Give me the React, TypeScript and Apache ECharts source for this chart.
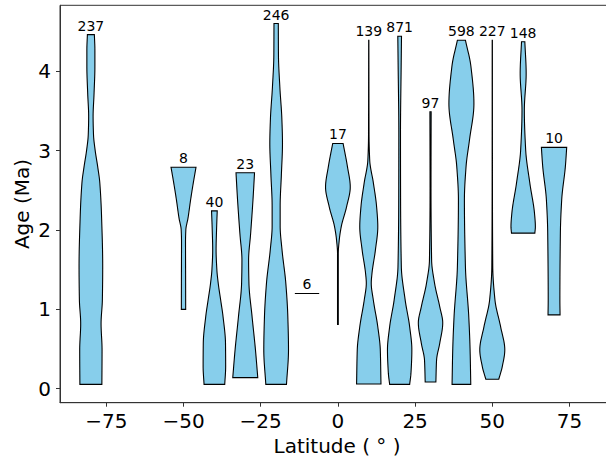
import React, { useEffect, useRef } from "react";
import * as echarts from "echarts";

// Violin positions (latitude, degrees) and sample counts shown above each violin
const latitudes = [-80, -50, -40, -30, -20, -10, 0, 10, 20, 30, 40, 50, 60, 70];
const counts = [237, 8, 40, 23, 246, 6, 17, 139, 871, 97, 598, 227, 148, 10];

// Outline of each violin: ages (Ma, top to bottom) and half-widths (degrees)
const profileAges: number[][] = [
  [4.46, 4.27, 4.06, 3.72, 3.43, 3.2, 3.0, 2.8, 2.59, 2.17, 1.54, 1.12, 0.82, 0.49, 0.055],
  [2.79, 2.6, 2.38, 2.15, 2.0, 1.85, 1.4, 1.0],
  [2.24, 2.0, 1.75, 1.5, 1.33, 1.1, 0.91, 0.57, 0.28, 0.055],
  [2.72, 2.38, 1.95, 1.62, 1.33, 0.91, 0.49, 0.14],
  [4.6, 4.2, 3.8, 3.4, 3.09, 2.7, 2.3, 2.05, 1.75, 1.33, 0.91, 0.49, 0.055],
  [1.2, 1.2],
  [3.09, 2.8, 2.54, 2.29, 2.04, 1.87, 1.7, 0.81],
  [4.39, 3.2, 2.88, 2.59, 2.29, 2.04, 1.75, 1.45, 1.33, 1.12, 0.78, 0.49, 0.06],
  [4.44, 4.06, 3.22, 2.38, 1.54, 1.12, 0.78, 0.49, 0.2, 0.055],
  [3.49, 2.5, 1.62, 1.33, 1.03, 0.83, 0.57, 0.36, 0.085],
  [4.39, 4.06, 3.59, 3.13, 2.8, 2.38, 1.54, 0.91, 0.49, 0.055],
  [4.39, 2.5, 1.54, 1.12, 0.78, 0.49, 0.28, 0.12],
  [4.37, 3.97, 3.51, 3.01, 2.59, 2.21, 2.04, 1.96],
  [3.04, 2.8, 2.38, 1.96, 1.12, 0.93],
];
const profileHalfWidths: number[][] = [
  [1.13, 1.3, 1.3, 1.03, 0.72, 0.85, 1.4, 2.2, 2.9, 3.46, 3.83, 3.72, 3.3, 3.62, 3.56],
  [4.05, 3.2, 2.3, 1.46, 0.75, 0.65, 0.68, 0.7],
  [0.92, 0.7, 0.55, 0.8, 1.24, 2.1, 2.8, 3.6, 3.65, 3.35],
  [3.0, 2.5, 1.73, 1.08, 1.19, 2.2, 3.3, 4.05],
  [0.7, 0.75, 1.2, 1.85, 2.05, 1.7, 1.3, 1.3, 1.9, 3.13, 3.78, 4.0, 3.35],
  [3.94, 3.94],
  [1.68, 3.08, 4.0, 2.8, 1.08, 0.43, 0.12, 0.12],
  [0.03, 0.08, 0.3, 1.5, 2.54, 2.92, 2.16, 1.03, 0.8, 1.46, 2.92, 3.73, 3.95],
  [0.6, 0.49, 0.27, 0.3, 0.54, 1.78, 3.24, 3.95, 3.67, 3.24],
  [0.2, 0.15, 0.35, 1.3, 3.0, 3.95, 2.97, 1.95, 1.73],
  [1.3, 3.08, 4.05, 2.6, 1.51, 0.97, 1.3, 2.38, 2.81, 3.03],
  [0.03, 0.05, 0.15, 0.86, 2.7, 4.05, 3.24, 2.1],
  [0.54, 0.97, 0.38, 0.81, 2.16, 3.67, 3.95, 3.78],
  [4.1, 3.67, 2.48, 2.05, 1.89, 1.95],
];

const xTicks = [-75, -50, -25, 0, 25, 50, 75];
const yTicks = [0, 1, 2, 3, 4];

const FONT = "DejaVu Sans";

// monotone cubic Hermite interpolation of half-width as a function of age (for a smooth outline)
function makeInterp(agesDesc: number[], hwDesc: number[]) {
  const xs = agesDesc.slice().reverse();
  const ys = hwDesc.slice().reverse();
  const n = xs.length;
  const d: number[] = [];
  for (let k = 0; k < n - 1; k++) d.push((ys[k + 1] - ys[k]) / (xs[k + 1] - xs[k]));
  const m: number[] = [];
  for (let k = 0; k < n; k++) {
    if (k === 0) m.push(d[0]);
    else if (k === n - 1) m.push(d[n - 2]);
    else if (d[k - 1] * d[k] <= 0) m.push(0);
    else m.push(2 / (1 / d[k - 1] + 1 / d[k]));
  }
  return (x: number) => {
    let k = 0;
    while (k < n - 2 && x > xs[k + 1]) k++;
    const h = xs[k + 1] - xs[k];
    const t = Math.min(1, Math.max(0, (x - xs[k]) / h));
    const t2 = t * t, t3 = t2 * t;
    const v =
      (2 * t3 - 3 * t2 + 1) * ys[k] +
      (t3 - 2 * t2 + t) * h * m[k] +
      (-2 * t3 + 3 * t2) * ys[k + 1] +
      (t3 - t2) * h * m[k + 1];
    return Math.max(0, v);
  };
}

export default function App() {
  const ref = useRef<HTMLDivElement>(null);
  useEffect(() => {
    if (!ref.current) return;
    const chart = echarts.init(ref.current, undefined, { renderer: "svg" });

    const data = latitudes.map((lat, i) => [lat, profileAges[i][0], i]);

    const renderItem = (params: any, api: any) => {
      const i = api.value(2) as number;
      const lat = latitudes[i];
      const ages = profileAges[i];
      const hws = profileHalfWidths[i];
      const top = ages[0];
      const bottom = ages[ages.length - 1];
      const right: number[][] = [];
      const left: number[][] = [];
      if (top - bottom < 1e-6) {
        right.push(api.coord([lat + hws[0], top]));
        left.push(api.coord([lat - hws[0], top]));
      } else {
        const f = makeInterp(ages, hws);
        const steps = 200;
        for (let s = 0; s <= steps; s++) {
          const a = top - ((top - bottom) * s) / steps;
          const w = f(a);
          right.push(api.coord([lat + w, a]));
          left.push(api.coord([lat - w, a]));
        }
      }
      const points = right.concat(left.reverse());
      const tp = api.coord([lat, top]);
      return {
        type: "group",
        children: [
          {
            type: "polygon",
            shape: { points },
            style: { fill: "#87CEEB", stroke: "#000", lineWidth: 1.1 },
          },
          {
            type: "text",
            style: {
              text: String(counts[i]),
              x: tp[0],
              y: tp[1] - 9,
              align: "center",
              verticalAlign: "middle",
              fontSize: 14,
              fontFamily: FONT,
              fill: "#000",
            },
          },
        ],
      };
    };

    const option: any = {
      animation: false,
      backgroundColor: "#fff",
      grid: {
        left: 60,
        top: 5.3,
        width: 555.8,
        height: 397.4,
        show: true,
        borderColor: "#333",
        borderWidth: 1,
        containLabel: false,
      },
      xAxis: {
        type: "value",
        min: -90,
        max: 90,
        axisLine: { show: true, onZero: false, lineStyle: { color: "#333", width: 1 } },
        axisTick: { show: true, customValues: xTicks, length: 4, lineStyle: { color: "#333" } },
        axisLabel: {
          customValues: xTicks,
          formatter: (v: number) => (v < 0 ? "\u2212" + Math.abs(v) : String(v)),
          fontSize: 20,
          fontFamily: FONT,
          color: "#000",
          margin: 8,
        },
        splitLine: { show: false },
      },
      yAxis: {
        type: "value",
        min: -0.176,
        max: 4.83,
        axisLine: { show: true, onZero: false, lineStyle: { color: "#333", width: 1 } },
        axisTick: { show: true, customValues: yTicks, length: 4, lineStyle: { color: "#333" } },
        axisLabel: {
          customValues: yTicks,
          fontSize: 20,
          fontFamily: FONT,
          color: "#000",
          margin: 9,
        },
        splitLine: { show: false },
      },
      graphic: [
        {
          type: "text",
          style: {
            text: "Latitude ( \u00B0 )",
            x: 337,
            y: 446,
            align: "center",
            verticalAlign: "middle",
            fontSize: 20,
            fontFamily: FONT,
            fill: "#000",
          },
        },
        {
          type: "text",
          x: 22,
          y: 204,
          rotation: Math.PI / 2,
          style: {
            text: "Age (Ma)",
            x: 0,
            y: 0,
            align: "center",
            verticalAlign: "middle",
            fontSize: 20,
            fontFamily: FONT,
            fill: "#000",
          },
        },
      ],
      series: [
        {
          type: "custom",
          coordinateSystem: "cartesian2d",
          clip: false,
          encode: { x: 0, y: 1 },
          data,
          renderItem,
        },
      ],
    };
    chart.setOption(option);
    return () => chart.dispose();
  }, []);

  return (
    <div
      ref={ref}
      style={{ position: "fixed", left: 0, top: 0, width: 640, height: 459, background: "#fff" }}
    />
  );
}
